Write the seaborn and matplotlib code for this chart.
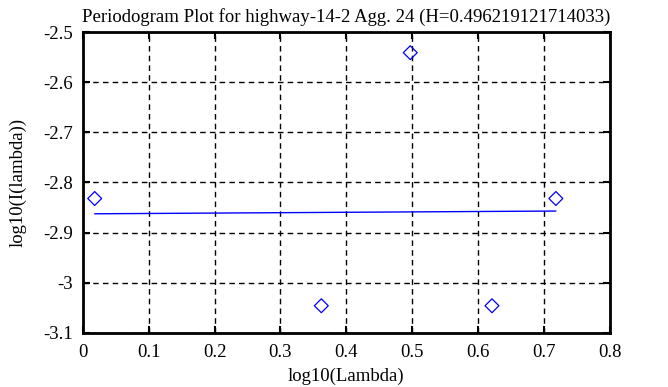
import numpy as np
import pandas as pd
import seaborn as sns
import matplotlib
matplotlib.use('Agg')
import matplotlib.pyplot as plt

# data
log_lambda = [0.018, 0.362, 0.497, 0.621, 0.718]
log_I = [-2.832, -3.046, -2.541, -3.046, -2.832]
fit_x = [0.018, 0.718]
fit_y = [-2.8625, -2.857]
title = "Periodogram Plot for highway-14-2 Agg. 24 (H=0.496219121714033)"
xticks = [0, 0.1, 0.2, 0.3, 0.4, 0.5, 0.6, 0.7, 0.8]
yticks = [-3.1, -3.0, -2.9, -2.8, -2.7, -2.6, -2.5]
ytick_labels = ['-3.1', '-3', '-2.9', '-2.8', '-2.7', '-2.6', '-2.5']

sns.set_style('ticks')
plt.rcParams['font.family'] = ['Liberation Serif', 'DejaVu Serif']
size = 13.5
plt.rcParams.update({'axes.labelsize': size, 'xtick.labelsize': size,
                     'ytick.labelsize': size, 'axes.titlesize': size,
                     'text.color': 'black', 'axes.labelcolor': 'black',
                     'xtick.color': 'black', 'ytick.color': 'black'})

pts = pd.DataFrame({'x': log_lambda, 'y': log_I})
fit = pd.DataFrame({'x': fit_x, 'y': fit_y})

fig = plt.figure(figsize=(6.68, 3.87), dpi=100)
ax = fig.add_axes([0.124, 0.140, 0.789, 0.777])

sns.lineplot(data=fit, x='x', y='y', color='blue', linewidth=1, ax=ax)
sns.scatterplot(data=pts, x='x', y='y', marker='D', s=50, facecolor='none',
                edgecolor='blue', linewidth=0.9, ax=ax, zorder=3)

ax.set_xlim(0, 0.8)
ax.set_ylim(-3.1, -2.5)
ax.set_xticks(xticks)
ax.set_xticklabels([f'{t:g}' for t in xticks])
ax.set_yticks(yticks)
ax.set_yticklabels(ytick_labels)
ax.grid(True, color='black', linestyle=(0, (4, 3)), linewidth=1)
ax.tick_params(direction='in', top=True, right=True, length=5, width=1.5)
ax.tick_params(axis='x', pad=8)
ax.tick_params(axis='y', pad=7)
for sp in ax.spines.values():
    sp.set_linewidth(2)
    sp.set_color('black')

ax.set_xlabel('log10(Lambda)', labelpad=5)
ax.set_ylabel('log10(I(lambda))', labelpad=12)
ax.set_title(title, pad=7, color='black')

fig.savefig('out.png', dpi=100)
